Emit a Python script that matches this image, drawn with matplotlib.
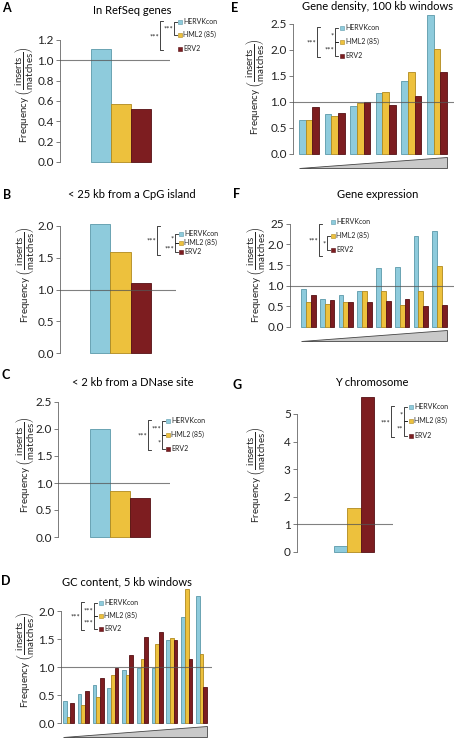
import matplotlib
matplotlib.use('Agg')
import matplotlib.pyplot as plt
import matplotlib.transforms as mtransforms
from matplotlib.patches import Polygon, Rectangle
from matplotlib.lines import Line2D

plt.rcParams['font.family'] = ['Lato', 'DejaVu Sans']
plt.rcParams['mathtext.fontset'] = 'custom'
plt.rcParams['mathtext.rm'] = 'Lato'
plt.rcParams['mathtext.it'] = 'Lato'

# ---- data ----
series = ['HERVKcon', 'HML2 (85)', 'ERV2']
colors = ['#8ecbdc', '#edc13d', '#7d1d20']
edges = ['#5b99aa', '#b08a1e', '#561014']

a_vals = [1.11, 0.575, 0.52]
b_vals = [2.03, 1.59, 1.10]
c_vals = [2.00, 0.86, 0.73]
g_vals = [0.22, 1.59, 5.60]

d_hervk = [0.39, 0.52, 0.67, 0.63, 0.95, 0.99, 0.99, 1.49, 1.89, 2.27]
d_hml2 = [0.11, 0.33, 0.46, 0.85, 0.86, 1.14, 1.41, 1.51, 2.39, 1.24]
d_erv2 = [0.35, 0.57, 0.80, 0.98, 1.21, 1.54, 1.62, 1.48, 1.15, 0.64]

e_hervk = [0.65, 0.76, 0.92, 1.17, 1.41, 2.67]
e_hml2 = [0.65, 0.73, 0.99, 1.19, 1.57, 2.01]
e_erv2 = [0.90, 0.79, 1.00, 0.95, 1.11, 1.58]

f_hervk = [0.91, 0.67, 0.78, 0.86, 1.44, 1.46, 2.21, 2.33]
f_hml2 = [0.61, 0.56, 0.60, 0.86, 0.86, 0.53, 0.86, 1.48]
f_erv2 = [0.77, 0.65, 0.61, 0.61, 0.63, 0.69, 0.52, 0.53]

# significance brackets: (first, last, stars)
a_inner = [(0, 1, '***')]
b_inner = [(0, 1, '*'), (1, 2, '***')]
c_inner = [(0, 1, '***'), (1, 2, '*')]
d_inner = [(0, 1, '***'), (1, 2, '***')]
e_inner = [(0, 1, '*'), (1, 2, '***')]
f_inner = [(1, 2, '*')]
g_inner = [(0, 1, '*'), (1, 2, '**')]
outer_stars = '***'

W, H = 460, 739
fig = plt.figure(figsize=(W / 100, H / 100), dpi=100)


def fx(x):
    return x / W


def fy(y):
    return 1 - y / H


def panel(vals, x0, x1, y_zero, ppu, ytop, spine_top, ticks, ticklabels,
          bl, br, w, title, tx, ty, letter, lx, ly, ylx, yly, tri=False):
    n = len(vals[0])
    ax = fig.add_axes([fx(x0), fy(y_zero), (x1 - x0) / W, ytop * ppu / H])
    ax.set_ylim(0, ytop)
    pp = (br - bl) / ((n - 1) + 3 * w)
    ax.set_xlim(-1.5 * w - (bl - x0) / pp, (n - 1) + 1.5 * w + (x1 - br) / pp)
    for k in range(3):
        xs = [i + (k - 1) * w for i in range(n)]
        ax.bar(xs, vals[k], width=w, color=colors[k], edgecolor=edges[k],
               linewidth=0.6, zorder=2, clip_on=False)
    ax.axhline(1.0, color='#555555', lw=0.8, alpha=0.75, zorder=3)
    for s in ['top', 'right', 'bottom']:
        ax.spines[s].set_visible(False)
    ax.spines['left'].set_bounds(0, spine_top)
    ax.spines['left'].set_color('#666666')
    ax.spines['left'].set_linewidth(0.6)
    ax.set_yticks(ticks)
    ax.set_yticklabels(ticklabels)
    ax.tick_params(axis='y', length=3, width=0.6, color='#666666',
                   labelsize=8.5, labelcolor='#222222', pad=1.5)
    ax.set_xticks([])
    if tri:
        trans = mtransforms.blended_transform_factory(ax.transData, ax.transAxes)
        hpx = ytop * ppu
        xa, xb = -1.5 * w, (n - 1) + 1.5 * w
        ya, yb = -3 / hpx, -14 / hpx
        ax.add_patch(Polygon([(xa, yb), (xb, yb), (xb, ya)], closed=True,
                             transform=trans, clip_on=False,
                             facecolor='#c9c9c9', edgecolor='#444444', lw=0.6))
    fig.text(fx(tx), fy(ty), title, ha='center', va='center', fontsize=8)
    fig.text(fx(lx), fy(ly), letter, ha='center', va='center', fontsize=9,
             fontweight='bold')
    fig.text(fx(ylx), fy(yly),
             r'Frequency $\left(\dfrac{\mathrm{inserts}}{\mathrm{matches}}\right)$',
             rotation=90, ha='center', va='center', fontsize=7,
             color='#222222')
    return ax


def key(xs, ys, inner, xi, xo, oy0, oy1):
    for k in range(3):
        fig.patches.append(Rectangle((fx(xs), fy(ys[k] + 2)), 4 / W, 4 / H,
                                     transform=fig.transFigure,
                                     facecolor=colors[k], edgecolor=edges[k],
                                     lw=0.4))
        fig.text(fx(xs + 5.5), fy(ys[k] + 2), series[k], ha='left',
                 va='baseline', fontsize=5, color='#222222')
    for i, j, lab in inner:
        fig.lines.append(Line2D([fx(xi + 3), fx(xi), fx(xi), fx(xi + 3)],
                                [fy(ys[i]), fy(ys[i]), fy(ys[j]), fy(ys[j])],
                                transform=fig.transFigure, color='#222222',
                                lw=0.6))
        fig.text(fx(xi - 1), fy((ys[i] + ys[j]) / 2 + 1), lab, ha='right',
                 va='center', fontsize=5.5, color='#222222')
    fig.lines.append(Line2D([fx(xo + 3), fx(xo), fx(xo), fx(xo + 3)],
                            [fy(oy0), fy(oy0), fy(oy1), fy(oy1)],
                            transform=fig.transFigure, color='#222222', lw=0.6))
    fig.text(fx(xo - 1), fy((oy0 + oy1) / 2 + 1), outer_stars, ha='right',
             va='center', fontsize=5.5, color='#222222')


def fmt(vals):
    return ['%.1f' % v for v in vals]


one = [[v] for v in a_vals]
t = [0.0, 0.2, 0.4, 0.6, 0.8, 1.0, 1.2]
panel(one, 60, 170, 162, 101.7, 1.2, 1.2, t, fmt(t), 91, 151, 1 / 3,
      'In RefSeq genes', 132, 10, 'A', 6, 8, 24, 95)
key(178, [22, 35, 49], a_inner, 174, 160, 21, 50)

one = [[v] for v in b_vals]
t = [0.0, 0.5, 1.0, 1.5, 2.0]
panel(one, 60, 176, 353, 63.5, 2.05, 2.0, t, fmt(t), 90, 151, 1 / 3,
      '< 25 kb from a CpG island', 132, 195, 'B', 7, 195, 25, 275)
key(179, [234, 243, 252], b_inner, 175, 157, 226, 255)

one = [[v] for v in c_vals]
t = [0.0, 0.5, 1.0, 1.5, 2.0, 2.5]
panel(one, 58.5, 170, 537, 54, 2.5, 2.5, t, fmt(t), 90, 150, 1 / 3,
      '< 2 kb from a DNase site', 133, 382, 'C', 6, 375, 25, 465)
key(166, [421, 435, 449], c_inner, 162, 148, 420, 450)

t = [0.0, 0.5, 1.0, 1.5, 2.0]
panel([d_hervk, d_hml2, d_erv2], 61, 212, 723, 56, 2.45, 2.0, t, fmt(t),
      63, 207, 0.25, 'GC content, 5 kb windows', 127, 582, 'D', 6, 581,
      25, 660, tri=True)
key(99, [603, 616, 629], d_inner, 94, 81, 602, 630)

t = [0.0, 0.5, 1.0, 1.5, 2.0, 2.5]
panel([e_hervk, e_hml2, e_erv2], 293, 454, 154, 52, 2.7, 2.5, t, fmt(t),
      299, 447, 0.26, 'Gene density, 100 kb windows', 378, 7, 'E', 235, 8,
      255, 87, tri=True)
key(340, [28, 42, 56], e_inner, 335, 317, 27, 57)

t = [0.0, 0.5, 1.0, 1.5, 2.0, 2.5]
panel([f_hervk, f_hml2, f_erv2], 290, 454, 327, 41.3, 2.5, 2.5, t,
      ['0.0', '0.5', '1.0', '1.5', '2.0', '25'], 301, 447, 0.26,
      'Gene expression', 378, 195, 'F', 237, 194, 256, 275, tri=True)
key(331, [222, 236, 250], f_inner, 327, 319, 224, 256)

one = [[v] for v in g_vals]
t = [0, 1, 2, 3, 4, 5]
panel(one, 297, 393, 552, 27.6, 5.65, 5, t, [str(v) for v in t], 334, 374,
      1 / 3, 'Y chromosome', 372, 383, 'G', 237, 385, 256, 475)
key(409, [407, 421, 436], g_inner, 404, 391, 406, 437)

fig.savefig('out.png', dpi=100)
